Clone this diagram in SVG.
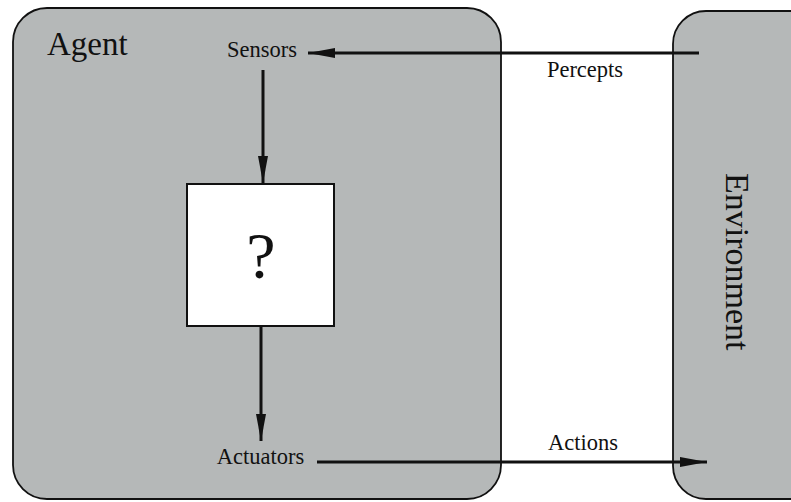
<svg xmlns="http://www.w3.org/2000/svg" width="791" height="502" viewBox="0 0 791 502">
<style>
.box{fill:#b5b8b8;stroke:#111;stroke-width:1.8}
.lbl{font-family:"Liberation Serif","Times New Roman",serif;fill:#111}
.conn{stroke:#111;stroke-width:3;fill:none}
</style>
<defs>
<marker id="ah" viewBox="0 0 27 10" refX="27" refY="5" markerWidth="27" markerHeight="10" markerUnits="userSpaceOnUse" orient="auto">
<path d="M0,0 L27,5 L0,10 Z" fill="#111"/>
</marker>
</defs>
<rect width="791" height="502" fill="#ffffff"/>
<g id="agent">
<rect class="box" x="13" y="8" width="488" height="491" rx="34" ry="34"/>
<text class="lbl" x="47" y="55" font-size="33">Agent</text>
</g>
<g id="environment">
<rect class="box" x="673" y="11" width="160" height="488" rx="33" ry="33"/>
<text class="lbl" font-size="34" transform="translate(726,173) rotate(90)">Environment</text>
</g>
<g id="sensors">
<text class="lbl" x="262" y="57" font-size="22.5" text-anchor="middle">Sensors</text>
</g>
<g id="actuators">
<text class="lbl" x="260.5" y="464" font-size="22.5" text-anchor="middle">Actuators</text>
</g>
<g id="agent-function">
<rect x="187" y="184" width="147" height="142" fill="#ffffff" stroke="#111" stroke-width="2"/>
<text class="lbl" x="261" y="278" font-size="66" text-anchor="middle">?</text>
</g>
<g id="connectors">
<line class="conn" x1="699" y1="53" x2="308" y2="53" marker-end="url(#ah)"/>
<line class="conn" x1="263" y1="70" x2="263" y2="183" marker-end="url(#ah)"/>
<line class="conn" x1="261" y1="326" x2="261" y2="441" marker-end="url(#ah)"/>
<line class="conn" x1="317" y1="462" x2="707" y2="462" marker-end="url(#ah)"/>
<text class="lbl" x="585" y="77" font-size="22.5" text-anchor="middle">Percepts</text>
<text class="lbl" x="583" y="450" font-size="22.5" text-anchor="middle">Actions</text>
</g>
</svg>
